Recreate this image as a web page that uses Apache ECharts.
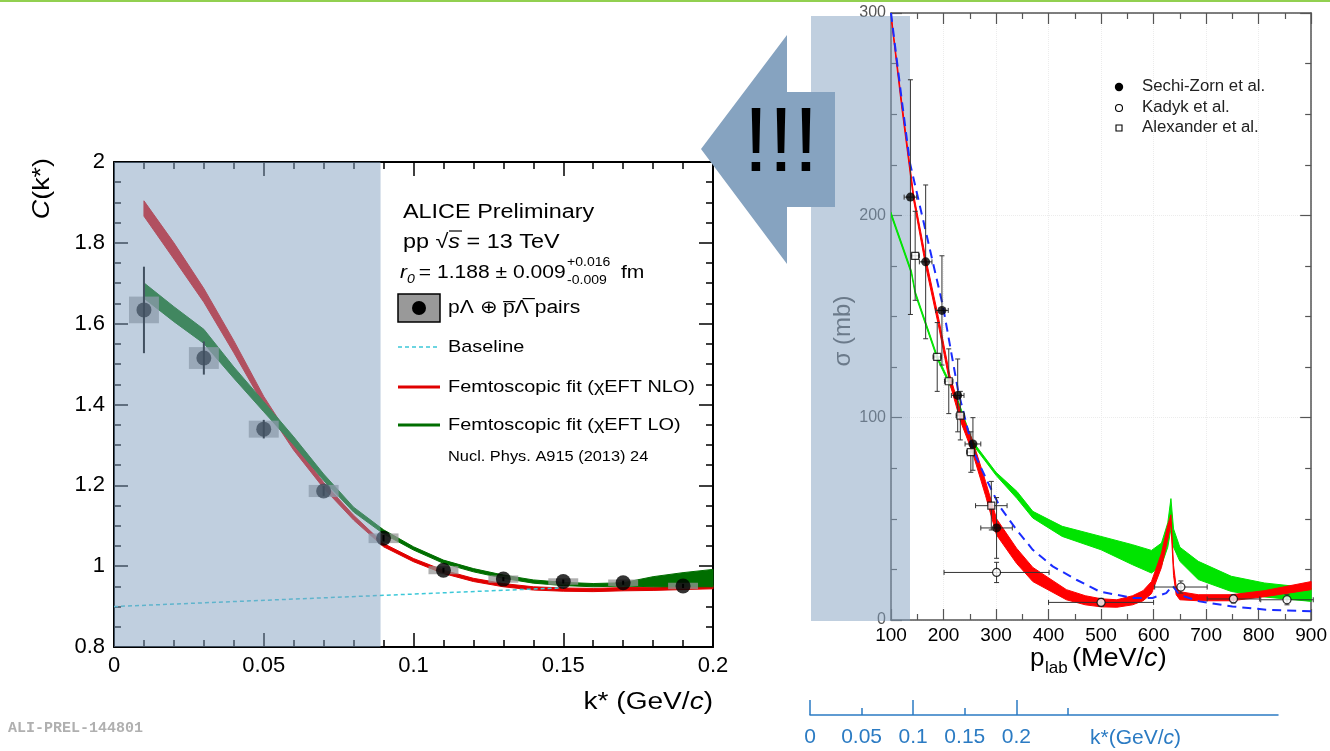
<!DOCTYPE html>
<html><head><meta charset="utf-8">
<script src="https://cdn.jsdelivr.net/npm/echarts@6/dist/echarts.min.js"></script>
<style>html,body{margin:0;padding:0;background:#fff}#c{width:1330px;height:751px}</style>
</head><body><div id="c"></div>
<script>
// ---------------- Left panel: p-Lambda correlation function ----------------
const kStar = [0.01, 0.03, 0.05, 0.07, 0.09, 0.11, 0.13, 0.15, 0.17, 0.19];
const cVal  = [1.634, 1.515, 1.339, 1.186, 1.069, 0.990, 0.968, 0.962, 0.959, 0.951];
const cStat = [0.107, 0.041, 0.023, 0.012, 0.008, 0.006, 0.005, 0.005, 0.005, 0.005];
const cSyst = [0.033, 0.027, 0.021, 0.015, 0.012, 0.010, 0.009, 0.008, 0.008, 0.008];
const binHalf = 0.005;

const kFit   = [0.01, 0.02, 0.03, 0.04, 0.05, 0.06, 0.07, 0.08, 0.09, 0.10, 0.11, 0.12, 0.13, 0.14, 0.15, 0.16, 0.17, 0.18, 0.19, 0.20];
const nloLow = [1.866, 1.760, 1.653, 1.528, 1.398, 1.287, 1.193, 1.114, 1.048, 1.011, 0.982, 0.962, 0.949, 0.941, 0.938, 0.937, 0.939, 0.940, 0.942, 0.944];
const nloHigh= [1.904, 1.800, 1.687, 1.558, 1.420, 1.305, 1.207, 1.126, 1.056, 1.019, 0.990, 0.970, 0.957, 0.949, 0.946, 0.945, 0.947, 0.948, 0.950, 0.952];
const loLow  = [1.663, 1.605, 1.551, 1.465, 1.382, 1.300, 1.212, 1.134, 1.080, 1.040, 1.007, 0.986, 0.970, 0.958, 0.952, 0.949, 0.951, 0.949, 0.949, 0.949];
const loHigh = [1.701, 1.642, 1.586, 1.493, 1.407, 1.320, 1.228, 1.146, 1.090, 1.048, 1.015, 0.994, 0.978, 0.966, 0.960, 0.957, 0.959, 0.974, 0.984, 0.992];

const baseK = [0, 0.15];
const baseC = [0.900, 0.9465];
const shadeK = [0, 0.089];
const shadeC = [0.8, 2.0];

// ---------------- Right panel: Lambda-p cross section ----------------
const pRed    = [100, 120, 143, 166, 190, 212, 232, 255, 280, 301, 339, 370, 434, 470, 500, 530, 560, 580, 596, 615, 627, 633, 638, 643, 650, 685, 748, 811, 900];
const redLow  = [298, 254, 207.5, 175, 146, 117, 98.5, 83, 61.5, 42, 28, 19, 10, 7.5, 6.5, 6.3, 7.5, 9.5, 13, 26, 40, 48, 22, 12.5, 10, 9.5, 9.5, 11.5, 15];
const redHigh = [300, 257, 210.5, 179, 150, 121, 103.5, 89, 68.5, 50, 35.5, 26, 15, 12, 10.5, 10, 12, 14.5, 19, 33, 47, 52, 27, 16.5, 14, 12.5, 12.5, 14.5, 19];

const pGreen    = [100, 139, 146, 188, 225, 255, 300, 340, 370, 426, 500, 560, 596, 615, 627, 633, 638, 650, 685, 748, 811, 900];
const greenLow  = [200, 171, 161, 129, 109, 87, 71.5, 60, 50.4, 41.3, 34.7, 27.3, 23.2, 27, 36, 45, 36, 29, 20, 14.1, 11.4, 9.2];
const greenHigh = [201.5, 172.5, 162.5, 130.5, 110.5, 88.5, 73, 63.5, 53.7, 46.3, 41.3, 37.2, 34.4, 38, 48, 60, 45, 36, 29, 21.6, 18.3, 15.8];

const pBlue = [100, 120, 136, 168, 199, 228, 256, 282, 307, 339, 370, 408, 453, 497, 560, 598, 624, 636, 649, 687, 750, 814, 900];
const sBlue = [300, 258, 226, 190, 155, 113, 84, 69.3, 56.1, 44.6, 34.7, 26.5, 19.9, 14.1, 10.9, 10.9, 13.3, 17, 12.5, 9.2, 6.7, 5.1, 4.3];

const sechiP  = [137, 166, 197, 227, 256, 301];
const sechiS  = [209, 177, 153, 111, 87, 45.5];
const sechiEP = [12, 12, 12, 12, 15, 30];
const sechiES = [58, 38, 27, 18, 13, 15];

const kadykP  = [301, 500, 652, 752, 854];
const kadykS  = [23.5, 8.7, 16.3, 10.4, 10.0];
const kadykEP = [100, 100, 50, 50, 50];
const kadykES = [5, 2, 3, 2, 2.5];

const alexP  = [146, 188, 210, 232, 252, 291];
const alexS  = [180, 130, 118, 101, 83, 56.5];
const alexEP = [8, 8, 8, 8, 8, 30];
const alexES = [22, 17, 16, 12, 10, 12];

// k* scale under the right panel
const kTickLabels = [0, 0.05, 0.1, 0.15, 0.2];

// ---------------------------------------------------------------
const FONT = '"Liberation Sans", Arial, Helvetica, sans-serif';
const chart = echarts.init(document.getElementById('c'), null, {renderer: 'canvas'});

function bandRender(xs, lo, hi, color) {
  return function (params, api) {
    if (params.dataIndex !== 0) return null;
    const pts = [];
    for (let i = 0; i < xs.length; i++) pts.push(api.coord([xs[i], hi[i]]));
    for (let i = xs.length - 1; i >= 0; i--) pts.push(api.coord([xs[i], lo[i]]));
    return {type: 'polygon', shape: {points: pts}, style: {fill: color, stroke: color, lineWidth: 1}};
  };
}
function errRender(xs, ys, ex, ey, color) {
  return function (params, api) {
    const i = params.dataIndex;
    const t = api.coord([xs[i], ys[i] + ey[i]]);
    const b = api.coord([xs[i], ys[i] - ey[i]]);
    const l = api.coord([xs[i] - ex[i], ys[i]]);
    const r = api.coord([xs[i] + ex[i], ys[i]]);
    const st = {stroke: color, lineWidth: 1};
    const cap = 2.5;
    return {type: 'group', children: [
      {type: 'line', shape: {x1: t[0], y1: t[1], x2: b[0], y2: b[1]}, style: st},
      {type: 'line', shape: {x1: l[0], y1: l[1], x2: r[0], y2: r[1]}, style: st},
      {type: 'line', shape: {x1: t[0] - cap, y1: t[1], x2: t[0] + cap, y2: t[1]}, style: st},
      {type: 'line', shape: {x1: b[0] - cap, y1: b[1], x2: b[0] + cap, y2: b[1]}, style: st},
      {type: 'line', shape: {x1: l[0], y1: l[1] - cap, x2: l[0], y2: l[1] + cap}, style: st},
      {type: 'line', shape: {x1: r[0], y1: r[1] - cap, x2: r[0], y2: r[1] + cap}, style: st}
    ]};
  };
}
const pairs = (xs, ys) => xs.map((x, i) => [x, ys[i]]);

function txt(x, y, text, fs, o) {
  o = o || {};
  const rich = {};
  if (o.rich) for (const k in o.rich) rich[k] = Object.assign({fontSize: fs, fontFamily: o.family || FONT, fill: o.color || '#000'}, o.rich[k]);
  return {type: 'text', x: x, y: y, scaleX: o.sx || 1, rotation: o.rot || 0, z: o.z == null ? 6 : o.z,
    style: {text: text, fontSize: fs, fontFamily: o.family || FONT, fill: o.color || '#000', align: o.align || 'left', verticalAlign: 'middle',
      fontStyle: o.italic ? 'italic' : 'normal', fontWeight: o.bold ? 'bold' : 'normal', rich: rich}};
}
const IT = {i: {fontStyle: 'italic'}};

// ---- axes ----
function leftX(pos, labels) {
  return {type: 'value', gridIndex: 0, position: pos, min: 0, max: 0.2, interval: 0.05,
    axisLine: {show: true, onZero: false, lineStyle: {color: '#000', width: 2}},
    axisTick: {show: true, inside: true, length: 14, lineStyle: {color: '#000', width: 1.5}},
    minorTick: {show: true, splitNumber: 5, length: 7, lineStyle: {color: '#000', width: 1.5}},
    splitLine: {show: false},
    axisLabel: {show: labels, fontSize: 22, fontFamily: FONT, color: '#000', margin: 8}};
}
function leftY(pos, labels) {
  return {type: 'value', gridIndex: 0, position: pos, min: 0.8, max: 2, interval: 0.2,
    axisLine: {show: true, onZero: false, lineStyle: {color: '#000', width: 2}},
    axisTick: {show: true, inside: true, length: 14, lineStyle: {color: '#000', width: 1.5}},
    minorTick: {show: true, splitNumber: 4, length: 7, lineStyle: {color: '#000', width: 1.5}},
    splitLine: {show: false},
    axisLabel: {show: labels, fontSize: 22, fontFamily: FONT, color: '#000', margin: 9}};
}
function rightX(pos, labels) {
  return {type: 'value', gridIndex: 1, position: pos, min: 100, max: 900, interval: 100,
    axisLine: {show: true, onZero: false, lineStyle: {color: '#555', width: 1.5}},
    axisTick: {show: true, inside: true, length: 11, lineStyle: {color: '#555', width: 1.2}},
    minorTick: {show: true, splitNumber: 2, length: 6, lineStyle: {color: '#555', width: 1.2}},
    splitLine: {show: labels, lineStyle: {color: '#ececec', type: 'dotted'}},
    axisLabel: {show: labels, fontSize: 19, fontFamily: FONT, color: '#000', margin: 6}};
}
function rightY(pos, labels) {
  return {type: 'value', gridIndex: 1, position: pos, min: 0, max: 300, interval: 100,
    axisLine: {show: true, onZero: false, lineStyle: {color: '#555', width: 1.5}},
    axisTick: {show: true, inside: true, length: 11, lineStyle: {color: '#555', width: 1.2}},
    minorTick: {show: true, splitNumber: 4, length: 6, lineStyle: {color: '#555', width: 1.2}},
    splitLine: {show: labels, lineStyle: {color: '#ececec', type: 'dotted'}},
    axisLabel: {show: labels, fontSize: 16, fontFamily: FONT, color: '#555', margin: 5}};
}
const KBLUE = '#2b7bc3';
const hiddenY = g => ({type: 'value', gridIndex: g, show: false, min: 0, max: 1});

const option = {
  animation: false,
  backgroundColor: '#fff',
  grid: [
    {left: 114, top: 162, width: 599, height: 485},
    {left: 891, top: 13, width: 421, height: 607},
    {left: 810, top: 700, width: 468, height: 15},
    {left: 810, top: 700, width: 258, height: 15},
    {left: 810, top: 700, width: 206.4, height: 15}
  ],
  xAxis: [
    leftX('bottom', true), leftX('top', false),
    rightX('bottom', true), rightX('top', false),
    {type: 'value', gridIndex: 2, min: 0, max: 0.4535, position: 'bottom',
      axisLine: {show: true, onZero: false, lineStyle: {color: KBLUE, width: 1.5}},
      axisTick: {show: false}, axisLabel: {show: false}, splitLine: {show: false}},
    {type: 'value', gridIndex: 3, min: 0, max: 0.25, interval: 0.05, position: 'bottom',
      axisLine: {show: false, onZero: false},
      axisTick: {show: true, inside: true, length: 7, lineStyle: {color: KBLUE, width: 1.5}},
      splitLine: {show: false},
      axisLabel: {show: true, margin: 12, fontSize: 21, fontFamily: FONT, color: KBLUE,
        formatter: v => kTickLabels.some(t => Math.abs(t - v) < 1e-9) ? String(+v.toFixed(2)) : ''}},
    {type: 'value', gridIndex: 4, min: 0, max: 0.2, interval: 0.1, position: 'bottom',
      axisLine: {show: false, onZero: false},
      axisTick: {show: true, inside: true, length: 15, lineStyle: {color: KBLUE, width: 1.5}},
      splitLine: {show: false}, axisLabel: {show: false}}
  ],
  yAxis: [
    leftY('left', true), leftY('right', false),
    rightY('left', true), rightY('right', false),
    hiddenY(2), hiddenY(3), hiddenY(4)
  ],
  series: [
    // ---- left panel ----
    {type: 'custom', name: 'NLO', xAxisIndex: 0, yAxisIndex: 0, z: 2,
      renderItem: bandRender(kFit, nloLow, nloHigh, '#e00000'), data: pairs(kFit, nloLow)},
    {type: 'custom', name: 'LO', xAxisIndex: 0, yAxisIndex: 0, z: 2,
      renderItem: bandRender(kFit, loLow, loHigh, '#006e00'), data: pairs(kFit, loLow)},
    {type: 'line', name: 'Baseline', xAxisIndex: 0, yAxisIndex: 0, z: 3, symbol: 'none',
      data: pairs(baseK, baseC), lineStyle: {color: '#3cc8d8', width: 1.5, type: [4, 3]}},
    {type: 'custom', name: 'syst', xAxisIndex: 0, yAxisIndex: 0, z: 3,
      renderItem: function (params, api) {
        const i = params.dataIndex;
        const a = api.coord([kStar[i] - binHalf, cVal[i] + cSyst[i]]);
        const b = api.coord([kStar[i] + binHalf, cVal[i] - cSyst[i]]);
        return {type: 'rect', shape: {x: a[0], y: a[1], width: b[0] - a[0], height: b[1] - a[1]},
          style: {fill: 'rgba(150,150,150,0.75)'}};
      }, data: pairs(kStar, cVal)},
    {type: 'custom', name: 'stat', xAxisIndex: 0, yAxisIndex: 0, z: 4,
      renderItem: function (params, api) {
        const i = params.dataIndex;
        const a = api.coord([kStar[i], cVal[i] + cStat[i]]);
        const b = api.coord([kStar[i], cVal[i] - cStat[i]]);
        return {type: 'line', shape: {x1: a[0], y1: a[1], x2: b[0], y2: b[1]}, style: {stroke: '#000', lineWidth: 2}};
      }, data: pairs(kStar, cVal)},
    {type: 'scatter', name: 'data', xAxisIndex: 0, yAxisIndex: 0, z: 5, symbol: 'circle', symbolSize: 15,
      itemStyle: {color: '#000'}, data: pairs(kStar, cVal)},
    {type: 'custom', name: 'shade', xAxisIndex: 0, yAxisIndex: 0, z: 10, silent: true,
      renderItem: function (params, api) {
        const a = api.coord([shadeK[0], shadeC[1]]);
        const b = api.coord([shadeK[1], shadeC[0]]);
        return {type: 'rect', shape: {x: a[0], y: a[1], width: b[0] - a[0], height: b[1] - a[1]},
          style: {fill: 'rgba(130,160,192,0.5)'}};
      }, data: [[shadeK[0], shadeC[0]]]},
    // ---- right panel ----
    {type: 'custom', name: 'LO xs', xAxisIndex: 2, yAxisIndex: 2, z: 2, clip: true,
      renderItem: bandRender(pGreen, greenLow, greenHigh, '#00e400'), data: pairs(pGreen, greenLow)},
    {type: 'custom', name: 'NLO xs', xAxisIndex: 2, yAxisIndex: 2, z: 3, clip: true,
      renderItem: bandRender(pRed, redLow, redHigh, '#ff0000'), data: pairs(pRed, redLow)},
    {type: 'line', name: 'Juelich', xAxisIndex: 2, yAxisIndex: 2, z: 4, symbol: 'none', clip: true,
      data: pairs(pBlue, sBlue), lineStyle: {color: '#1a2cff', width: 2, type: [9, 6]}},
    {type: 'custom', name: 'err1', xAxisIndex: 2, yAxisIndex: 2, z: 5,
      renderItem: errRender(sechiP, sechiS, sechiEP, sechiES, '#333'), data: pairs(sechiP, sechiS)},
    {type: 'custom', name: 'err2', xAxisIndex: 2, yAxisIndex: 2, z: 5,
      renderItem: errRender(kadykP, kadykS, kadykEP, kadykES, '#333'), data: pairs(kadykP, kadykS)},
    {type: 'custom', name: 'err3', xAxisIndex: 2, yAxisIndex: 2, z: 5,
      renderItem: errRender(alexP, alexS, alexEP, alexES, '#333'), data: pairs(alexP, alexS)},
    {type: 'scatter', name: 'Sechi-Zorn et al.', xAxisIndex: 2, yAxisIndex: 2, z: 6, symbol: 'circle', symbolSize: 9,
      itemStyle: {color: '#000'}, data: pairs(sechiP, sechiS)},
    {type: 'scatter', name: 'Kadyk et al.', xAxisIndex: 2, yAxisIndex: 2, z: 6, symbol: 'circle', symbolSize: 8,
      itemStyle: {color: '#fff', borderColor: '#000', borderWidth: 1.2}, data: pairs(kadykP, kadykS)},
    {type: 'scatter', name: 'Alexander et al.', xAxisIndex: 2, yAxisIndex: 2, z: 6, symbol: 'rect', symbolSize: 7,
      itemStyle: {color: '#fff', borderColor: '#000', borderWidth: 1.2}, data: pairs(alexP, alexS)}
  ],
  graphic: {elements: [
    {type: 'rect', shape: {x: 0, y: 0, width: 1330, height: 2}, style: {fill: '#92d050'}, z: 6},
    {type: 'rect', shape: {x: 811, y: 16, width: 99, height: 605}, style: {fill: 'rgba(130,160,192,0.5)'}, z: 1},
    {type: 'polygon', shape: {points: [[701, 149], [787, 35], [787, 92], [835, 92], [835, 207], [787, 207], [787, 264]]},
      style: {fill: '#86a3c0'}, z: 5},
    txt(781, 146, '!!!', 90, {align: 'center', z: 7}),
    // left axis titles
    txt(42, 158, '{i|C}(k*)', 24, {rot: Math.PI / 2, align: 'right', sx: 1.12, rich: IT}),
    txt(713, 703, 'k* (GeV/{i|c})', 23, {align: 'right', sx: 1.22, rich: IT}),
    // left legend
    txt(403, 212, 'ALICE Preliminary', 20, {sx: 1.17}),
    txt(403, 242, 'pp √{i|s} = 13 TeV', 20, {sx: 1.17, rich: IT}),
    {type: 'line', shape: {x1: 449, y1: 231, x2: 462, y2: 231}, style: {stroke: '#000', lineWidth: 1.2}, z: 6},
    txt(400, 273, 'r', 18, {italic: true, sx: 1.17}),
    txt(407, 280, '0', 12, {italic: true, sx: 1.17}),
    txt(413, 273, ' = 1.188 ± 0.009', 18, {sx: 1.17}),
    txt(567, 263, '+0.016', 12, {sx: 1.17}),
    txt(567, 281, '-0.009', 12, {sx: 1.17}),
    txt(621, 273, 'fm', 18, {sx: 1.17}),
    {type: 'rect', shape: {x: 398, y: 294, width: 42, height: 28}, style: {fill: '#999', stroke: '#000', lineWidth: 1.5}, z: 6},
    {type: 'circle', shape: {cx: 419, cy: 308, r: 7}, style: {fill: '#000'}, z: 7},
    txt(448, 308, 'pΛ ⊕ p\u0305Λ\u0305 pairs', 18, {sx: 1.17}),
    {type: 'line', shape: {x1: 398, y1: 347, x2: 440, y2: 347}, style: {stroke: '#3cc8d8', lineWidth: 1.5, lineDash: [4, 3]}, z: 6},
    txt(448, 347, 'Baseline', 17, {sx: 1.17}),
    {type: 'line', shape: {x1: 398, y1: 387, x2: 440, y2: 387}, style: {stroke: '#e00000', lineWidth: 3}, z: 6},
    txt(448, 387, 'Femtoscopic fit (χEFT NLO)', 17, {sx: 1.17}),
    {type: 'line', shape: {x1: 398, y1: 425, x2: 440, y2: 425}, style: {stroke: '#006e00', lineWidth: 3}, z: 6},
    txt(448, 425, 'Femtoscopic fit (χEFT LO)', 17, {sx: 1.17}),
    txt(448, 457, 'Nucl. Phys. A915 (2013) 24', 14, {sx: 1.17}),
    txt(8, 728, 'ALI-PREL-144801', 15, {color: '#b0b0b0', bold: true, family: '"Liberation Mono", "DejaVu Sans Mono", monospace'}),
    // right panel titles
    txt(843, 331, 'σ (mb)', 24, {rot: Math.PI / 2, align: 'center', color: '#555', z: 0}),
    txt(1030, 659, 'p', 26, {}),
    txt(1045, 668, 'lab', 17, {}),
    txt(1072, 659, '(MeV/{i|c})', 26, {sx: 1.04, rich: IT}),
    // right legend
    {type: 'circle', shape: {cx: 1119, cy: 87, r: 4.2}, style: {fill: '#000'}, z: 6},
    {type: 'circle', shape: {cx: 1119, cy: 108, r: 3.5}, style: {fill: '#fff', stroke: '#000', lineWidth: 1.1}, z: 6},
    {type: 'rect', shape: {x: 1116, y: 125, width: 6, height: 6}, style: {fill: '#fff', stroke: '#000', lineWidth: 1.1}, z: 6},
    txt(1142, 87, 'Sechi-Zorn et al.', 16, {sx: 1.05, color: '#222'}),
    txt(1142, 108, 'Kadyk et al.', 16, {sx: 1.05, color: '#222'}),
    txt(1142, 128, 'Alexander et al.', 16, {sx: 1.05, color: '#222'}),
    // k* scale title
    txt(1090, 738, 'k*(GeV/{i|c})', 21, {color: KBLUE, rich: IT})
  ]}
};
chart.setOption(option);
</script></body></html>
